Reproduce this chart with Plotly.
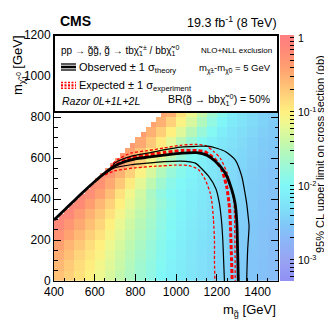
import numpy as np
import plotly.graph_objects as go

# ---------------- data ----------------
gluino_mass = [425, 475, 525, 575, 625, 675, 725, 775, 825, 875, 925,
               975, 1025, 1075, 1125, 1175, 1225, 1275, 1325, 1375, 1425, 1475]
lsp_mass = [25, 75, 125, 175, 225, 275, 325, 375, 425, 475, 525,
            575, 625, 675, 725, 775, 825]
N = None
xsec_limit_pb = [
    [0.22, 0.17, 0.13, 0.095, 0.07, 0.05, 0.036, 0.026, 0.019, 0.014, 0.010, 0.0082, 0.0068, 0.0058, 0.005, 0.0044, 0.0039, 0.0035, 0.0031, 0.0028, 0.0025, 0.0023],
    [0.26, 0.19, 0.14, 0.105, 0.078, 0.056, 0.04, 0.028, 0.02, 0.015, 0.011, 0.0085, 0.007, 0.006, 0.0051, 0.0045, 0.004, 0.0035, 0.0031, 0.0028, 0.0025, 0.0023],
    [0.32, 0.23, 0.16, 0.12, 0.09, 0.062, 0.044, 0.031, 0.022, 0.016, 0.0115, 0.0088, 0.0072, 0.006, 0.0052, 0.0045, 0.004, 0.0036, 0.0032, 0.0028, 0.0026, 0.0023],
    [0.4, 0.28, 0.2, 0.14, 0.1, 0.07, 0.049, 0.034, 0.024, 0.017, 0.012, 0.0092, 0.0074, 0.0062, 0.0053, 0.0046, 0.0041, 0.0036, 0.0032, 0.0029, 0.0026, 0.0024],
    [0.55, 0.38, 0.26, 0.18, 0.13, 0.085, 0.057, 0.039, 0.027, 0.019, 0.013, 0.0098, 0.0078, 0.0064, 0.0055, 0.0047, 0.0042, 0.0037, 0.0033, 0.0029, 0.0026, 0.0024],
    [0.7, 0.5, 0.34, 0.23, 0.16, 0.1, 0.066, 0.044, 0.03, 0.021, 0.014, 0.0105, 0.0082, 0.0067, 0.0057, 0.0049, 0.0043, 0.0038, 0.0034, 0.003, 0.0027, 0.0025],
    [N, 0.7, 0.45, 0.3, 0.2, 0.13, 0.08, 0.052, 0.034, 0.023, 0.015, 0.011, 0.0086, 0.007, 0.0059, 0.005, 0.0044, 0.0039, 0.0035, 0.0031, 0.0028, 0.0025],
    [N, N, 0.65, 0.42, 0.27, 0.17, 0.1, 0.062, 0.04, 0.026, 0.017, 0.012, 0.0092, 0.0074, 0.0062, 0.0052, 0.0045, 0.004, 0.0036, 0.0032, 0.0028, 0.0026],
    [N, N, N, 0.6, 0.4, 0.24, 0.13, 0.075, 0.046, 0.024, 0.015, 0.011, 0.009, 0.0076, 0.0064, 0.0054, 0.0047, 0.0041, 0.0037, 0.0033, 0.0029, 0.0026],
    [N, N, N, N, 0.55, 0.35, 0.2, 0.11, 0.06, 0.034, 0.02, 0.013, 0.01, 0.0082, 0.0067, 0.0056, 0.0048, 0.0042, 0.0037, 0.0033, 0.003, 0.0027],
    [N, N, N, N, N, 0.5, 0.3, 0.17, 0.09, 0.05, 0.028, 0.017, 0.012, 0.0088, 0.0071, 0.0059, 0.005, 0.0044, 0.0038, 0.0034, 0.003, 0.0027],
    [N, N, N, N, N, N, 0.45, 0.28, 0.16, 0.085, 0.045, 0.025, 0.015, 0.01, 0.0078, 0.0063, 0.0053, 0.0046, 0.004, 0.0035, 0.0031, 0.0028],
    [N, N, N, N, N, N, N, 0.38, 0.22, 0.12, 0.07, 0.035, 0.018, 0.011, 0.0085, 0.0068, 0.0056, 0.0048, 0.0042, 0.0037, 0.0032, 0.0029],
    [N, N, N, N, N, N, N, N, 0.35, 0.2, 0.11, 0.06, 0.032, 0.018, 0.011, 0.0078, 0.0062, 0.0051, 0.0044, 0.0038, 0.0033, 0.003],
    [N, N, N, N, N, N, N, N, N, 0.3, 0.18, 0.1, 0.055, 0.03, 0.017, 0.011, 0.0075, 0.0058, 0.0048, 0.0041, 0.0035, 0.0031],
    [N, N, N, N, N, N, N, N, N, N, 0.3, 0.17, 0.09, 0.05, 0.027, 0.015, 0.0095, 0.0068, 0.0054, 0.0045, 0.0038, 0.0033],
    [N, N, N, N, N, N, N, N, N, N, N, 0.3, 0.13, 0.07, 0.038, 0.02, 0.012, 0.0075, 0.0055, 0.0045, 0.0038, 0.0032],
]
# finer (25 GeV) points right at the kinematic edge
edge_gluino = [437.5, 487.5, 537.5, 587.5, 637.5, 687.5, 737.5, 787.5, 837.5, 887.5, 937.5]
edge_lsp = [312.5, 362.5, 412.5, 462.5, 512.5, 562.5, 612.5, 662.5, 712.5, 762.5, 812.5]
edge_limit_pb = [0.75, 0.75, 0.7, 0.65, 0.6, 0.55, 0.5, 0.45, 0.42, 0.38, 0.35]

# exclusion contours (gluino mass, LSP mass)
obs_gluino = [400, 450, 500, 550, 600, 650, 700, 750, 800, 860, 940, 1030, 1100, 1150, 1192, 1241, 1273, 1289, 1298, 1302, 1305]
obs_lsp = [298, 345, 393, 440, 485, 527, 562, 583, 596, 604, 614, 624, 626, 614, 584, 527, 445, 380, 283, 137, 0]
obs_up_gluino = [690, 712, 777, 859, 940, 1021, 1102, 1164, 1241, 1289, 1322, 1338, 1346, 1355, 1358, 1351, 1346]
obs_up_lsp = [568, 584, 608, 624, 640, 653, 657, 657, 632, 592, 511, 429, 380, 300, 268, 153, 0]
obs_dn_gluino = [655, 696, 777, 859, 940, 1021, 1094, 1159, 1195, 1212, 1222, 1229, 1233, 1237]
obs_dn_lsp = [528, 551, 567, 575, 582, 585, 575, 511, 450, 380, 300, 200, 100, 0]
exp_gluino = [680, 777, 859, 940, 1029, 1100, 1143, 1192, 1224, 1248, 1262, 1268, 1272, 1275]
exp_lsp = [556, 600, 615, 627, 637, 636, 630, 592, 543, 460, 356, 226, 100, 0]
exp_up_gluino = [690, 712, 777, 859, 940, 1021, 1102, 1150, 1184, 1216, 1250, 1273, 1283, 1287, 1289, 1290]
exp_up_lsp = [574, 592, 624, 636, 649, 662, 666, 658, 632, 600, 527, 445, 389, 300, 150, 0]
exp_dn_gluino = [650, 700, 800, 900, 1000, 1061, 1110, 1143, 1167, 1176, 1183, 1188, 1188, 1190]
exp_dn_lsp = [518, 538, 552, 560, 565, 563, 543, 494, 429, 380, 300, 200, 100, 0]

cbar_tick_vals = [0.001, 0.01, 0.1, 1]
cbar_tick_text = ["10<sup>-3</sup>", "10<sup>-2</sup>", "10<sup>-1</sup>", "1"]

# ---------------- layout geometry ----------------
W, H = 332, 319
L_M, R_M, T_M, B_M = 46, 62, 27, 46
PW, PH = W - L_M - R_M, H - T_M - B_M
FONT = "Liberation Sans, Arial, Helvetica, sans-serif"
CB_LEFT, CB_THICK = 272, 14


def fx(px):
    return (px - L_M) / PW


def fy(py):
    return (H - B_M - py) / PH


zmin, zmax = np.log10(5.2e-4), 0.04


def cpos(v):
    return (np.log10(v) - zmin) / (zmax - zmin)


stops = [(5.2e-4, "#9090f5"), (1e-3, "#98a4f2"), (2e-3, "#8ab8f8"), (3e-3, "#80c8f8"),
         (5e-3, "#80e0f8"), (1e-2, "#80f8f8"), (2e-2, "#a0f8d0"), (4e-2, "#c8f8a8"),
         (7e-2, "#eef890"), (0.1, "#fff080"), (0.2, "#ffc878"), (0.4, "#ffa070"),
         (0.7, "#ff8878"), (1.0, "#ff8080")]
colorscale = [[min(1.0, max(0.0, cpos(v))), c] for v, c in stops] + [[1.0, "#ff8080"]]

z = [[(np.log10(v) if v is not None else None) for v in row] for row in xsec_limit_pb]

# fine-grid table for the edge cells (library needs a full matrix)
fine_x = [412.5 + 25 * i for i in range(44)]
fine_y = [12.5 + 25 * j for j in range(34)]
fine_z = [[None] * len(fine_x) for _ in fine_y]
for g, l, v in zip(edge_gluino, edge_lsp, edge_limit_pb):
    fine_z[fine_y.index(l)][fine_x.index(g)] = np.log10(v)

minor_vals = []
for d in [-4, -3, -2, -1]:
    for m in range(2, 10):
        v = m * 10.0 ** d
        if 5.2e-4 <= v <= 1.0:
            minor_vals.append(np.log10(v))
tickvals = [np.log10(v) for v in cbar_tick_vals] + minor_vals

fig = go.Figure()
fig.add_trace(go.Heatmap(
    x=gluino_mass, y=lsp_mass, z=z, zmin=zmin, zmax=zmax,
    colorscale=colorscale, hoverinfo="skip",
    colorbar=dict(x=fx(CB_LEFT), xanchor="left", xref="paper", y=0.5, yanchor="middle",
                  len=1.0, lenmode="fraction", thickness=CB_THICK, outlinewidth=0, xpad=0,
                  tickvals=tickvals, ticks="inside", ticklen=4, showticklabels=False,
                  tickcolor="black", ypad=0),
))
fig.add_trace(go.Heatmap(
    x=fine_x, y=fine_y, z=fine_z, zmin=zmin, zmax=zmax,
    colorscale=colorscale, hoverinfo="skip", showscale=False,
))


def line(xs, ys, color, width, dash=None):
    fig.add_trace(go.Scatter(x=xs, y=ys, mode="lines", hoverinfo="skip", showlegend=False,
                             line=dict(color=color, width=width, dash=dash, shape="spline",
                                       smoothing=0.6)))


line(exp_dn_gluino, exp_dn_lsp, "#ff0000", 1.3, "3px,2px")
line(exp_up_gluino, exp_up_lsp, "#ff0000", 1.3, "3px,2px")
line(exp_gluino, exp_lsp, "#ff0000", 3, "4px,2px")
line(obs_dn_gluino, obs_dn_lsp, "black", 1.2)
line(obs_up_gluino, obs_up_lsp, "black", 1.2)
line(obs_gluino, obs_lsp, "black", 2.8)

shapes = [
    dict(type="rect", xref="paper", yref="paper", x0=0, x1=1, y0=fy(104), y1=1,
         fillcolor="white", line=dict(color="black", width=2), layer="above"),
    dict(type="line", xref="paper", yref="paper", x0=fx(53), x1=fx(68), y0=fy(56), y1=fy(56),
         line=dict(color="black", width=1.3), layer="above"),
    dict(type="line", xref="paper", yref="paper", x0=fx(53), x1=fx(68), y0=fy(59), y1=fy(59),
         line=dict(color="black", width=2.6), layer="above"),
    dict(type="line", xref="paper", yref="paper", x0=fx(53), x1=fx(68), y0=fy(62), y1=fy(62),
         line=dict(color="black", width=1.3), layer="above"),
]
for yy, w in [(74.5, 1.4), (77.3, 2.2), (80.2, 1.4)]:
    shapes.append(dict(type="line", xref="paper", yref="paper", x0=fx(53), x1=fx(68),
                       y0=fy(yy), y1=fy(yy), line=dict(color="#ff0000", width=w, dash="2px,1.5px"),
                       layer="above"))

ann = []


def text(px, py, s, size, xanchor="left", angle=0, yanchor="middle"):
    ann.append(dict(x=fx(px), y=fy(py), xref="paper", yref="paper", text=s, showarrow=False,
                    xanchor=xanchor, yanchor=yanchor, textangle=angle,
                    font=dict(family=FONT, size=size, color="black")))


text(50, 13, "<b>CMS</b>", 14)
text(271, 14, "19.3 fb<sup>-1</sup> (8 TeV)", 12.5, xanchor="right")
text(51, 42, "pp → g̃g̃, g̃ → tbχ̃<sub>1</sub><sup>±</sup> / bbχ̃<sub>1</sub><sup>0</sup>", 10)
text(266, 42, "NLO+NLL exclusion", 8, xanchor="right")
text(69, 60, "Observed ± 1 σ<sub>theory</sub>", 11)
text(265, 61, "m<sub>χ̃±</sub>-m<sub>χ̃0</sub> = 5 GeV", 9.5, xanchor="right")
text(69, 78, "Expected ± 1 σ<sub>experiment</sub>", 11)
text(52, 93, "<i>Razor 0L+1L+2L</i>", 10.5)
text(264, 92, "BR(g̃ → bbχ̃<sub>1</sub><sup>0</sup>) = 50%", 10.5, xanchor="right")
text(11, 57, "m<sub>χ̃<sub>1</sub><sup>0</sup></sub> [GeV]", 13, xanchor="center", angle=-90)
text(270, 302, "m<sub>g̃</sub> [GeV]", 13, xanchor="right")
text(312, 146, "95% CL upper limit on cross section (pb)", 11, xanchor="center", angle=-90)

# colour-bar tick labels, placed on the colour axis
for v, t in zip(cbar_tick_vals, cbar_tick_text):
    ann.append(dict(x=fx(CB_LEFT + CB_THICK + 2), y=cpos(v), xref="paper", yref="paper",
                    text=t, showarrow=False, xanchor="left", yanchor="middle",
                    font=dict(family=FONT, size=10.5, color="black")))

axis_common = dict(showline=True, linecolor="black", linewidth=1, mirror="ticks",
                   ticks="inside", ticklen=7, tickcolor="black", showgrid=False,
                   zeroline=False, tickfont=dict(family=FONT, size=12, color="black"))
fig.update_layout(
    width=W, height=H, margin=dict(l=L_M, r=R_M, t=T_M, b=B_M, autoexpand=False),
    paper_bgcolor="white", plot_bgcolor="white", showlegend=False,
    xaxis=dict(range=[400, 1500], tick0=400, dtick=200,
               minor=dict(ticks="inside", dtick=50, ticklen=3.5, tickcolor="black"),
               **axis_common),
    yaxis=dict(range=[0, 1200], tick0=0, dtick=200,
               minor=dict(ticks="inside", dtick=50, ticklen=3.5, tickcolor="black"),
               **axis_common),
    shapes=shapes, annotations=ann,
)

fig.write_html("out.html")
